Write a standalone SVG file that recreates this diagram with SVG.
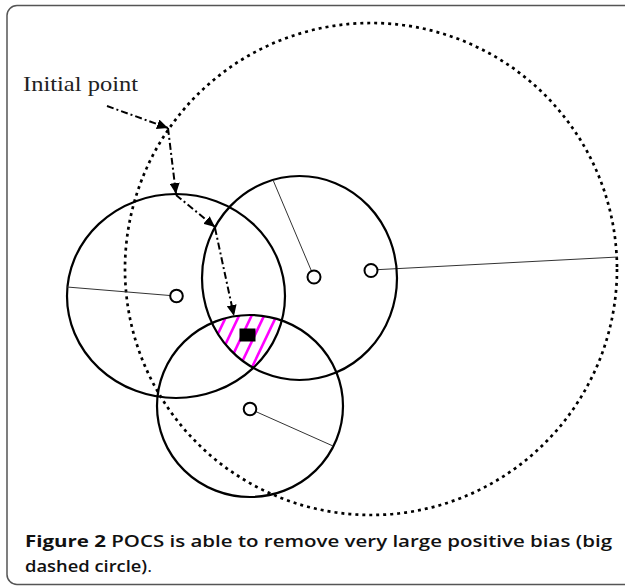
<svg xmlns="http://www.w3.org/2000/svg" width="625" height="587" viewBox="0 0 625 587">
<style>
.solid{fill:none;stroke:#000;stroke-width:2.2}
.dotted{fill:none;stroke:#000;stroke-width:2.7;stroke-dasharray:3 4}
.radius{stroke:#333;stroke-width:1}
.marker{fill:#fff;stroke:#000;stroke-width:2}
.hatch{stroke:#ff00ff;stroke-width:2.6}
.arrow{fill:none;stroke:#000;stroke-width:2;stroke-dasharray:7 3 2 3;marker-end:url(#ah)}
.label{font-family:"Liberation Serif","Times New Roman",serif;font-size:22px;fill:#222}
.cap{font-family:"Open Sans","Liberation Sans",sans-serif;font-size:16.5px;fill:#111}
</style>
<defs>
<marker id="ah" markerUnits="userSpaceOnUse" markerWidth="12" markerHeight="10" refX="11" refY="5" orient="auto">
<path d="M0,0 L11,5 L0,10 z" fill="#000"/>
</marker>
<clipPath id="cL"><ellipse cx="176" cy="296" rx="109" ry="102"/></clipPath>
<clipPath id="cM"><ellipse cx="299.5" cy="278" rx="97.5" ry="102"/></clipPath>
<clipPath id="cB"><ellipse cx="250" cy="406" rx="93" ry="91"/></clipPath>
</defs>
<rect x="7" y="5.5" width="640" height="579" rx="10" fill="#fff" stroke="#555" stroke-width="1.5"/>

<g id="intersection">
<g clip-path="url(#cL)"><g clip-path="url(#cM)"><g clip-path="url(#cB)">
<g class="hatch">
<line x1="198" y1="297" x2="159.4" y2="378"/>
<line x1="210.5" y1="297" x2="171.9" y2="378"/>
<line x1="223" y1="297" x2="184.4" y2="378"/>
<line x1="235.5" y1="297" x2="196.9" y2="378"/>
<line x1="248" y1="297" x2="209.4" y2="378"/>
<line x1="260.5" y1="297" x2="221.9" y2="378"/>
<line x1="273" y1="297" x2="234.4" y2="378"/>
<line x1="285.5" y1="297" x2="246.9" y2="378"/>
<line x1="298" y1="297" x2="259.4" y2="378"/>
<line x1="310.5" y1="297" x2="271.9" y2="378"/>
<line x1="323" y1="297" x2="284.4" y2="378"/>
</g>
</g></g></g>
<rect x="239.5" y="328.5" width="16" height="13" fill="#000"/>
</g>

<g id="big-circle">
<circle class="dotted" cx="371" cy="269" r="246"/>
<line class="radius" x1="371" y1="270" x2="618" y2="257"/>
<circle class="marker" cx="371" cy="270.5" r="6.5"/>
</g>

<g id="circle-left">
<ellipse class="solid" cx="176" cy="296" rx="109" ry="102"/>
<line class="radius" x1="67" y1="287" x2="176" y2="296"/>
<circle class="marker" cx="176.5" cy="296" r="6.3"/>
</g>

<g id="circle-middle">
<ellipse class="solid" cx="299.5" cy="278" rx="97.5" ry="102"/>
<line class="radius" x1="273" y1="180" x2="314" y2="277"/>
<circle class="marker" cx="314" cy="277" r="6.5"/>
</g>

<g id="circle-bottom">
<ellipse class="solid" cx="250" cy="406" rx="93" ry="91"/>
<line class="radius" x1="250" y1="409" x2="333" y2="446"/>
<circle class="marker" cx="250" cy="409" r="6.3"/>
</g>

<g id="initial-point">
<text class="label" x="23" y="91" textLength="115" lengthAdjust="spacingAndGlyphs">Initial point</text>
</g>

<g id="connectors">
<line class="arrow" x1="107" y1="106" x2="168" y2="128"/>
<line class="arrow" x1="168" y1="128" x2="176" y2="194"/>
<line class="arrow" x1="176" y1="195" x2="215" y2="227"/>
<line class="arrow" x1="215" y1="228" x2="234" y2="316"/>
</g>

<g id="caption">
<text class="cap" x="25" y="547" textLength="587" lengthAdjust="spacingAndGlyphs"><tspan font-weight="700">Figure 2</tspan><tspan font-weight="600"> POCS is able to remove very large positive bias (big</tspan></text>
<text class="cap" x="25" y="572" textLength="127" lengthAdjust="spacingAndGlyphs"><tspan font-weight="600">dashed circle)</tspan><tspan font-weight="400">.</tspan></text>
</g>
</svg>
